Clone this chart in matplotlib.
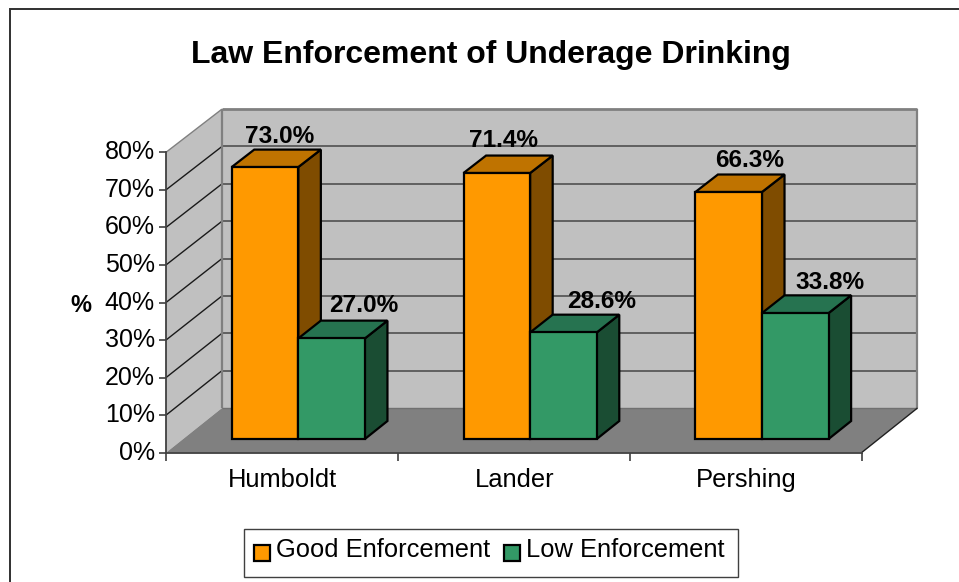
import matplotlib
matplotlib.use("Agg")
import matplotlib.pyplot as plt
from matplotlib.patches import Polygon, Rectangle
from matplotlib.lines import Line2D

categories = ["Humboldt", "Lander", "Pershing"]
good = [73.0, 71.4, 66.3]
low = [27.0, 28.6, 33.8]
series_names = ["Good Enforcement", "Low Enforcement"]
yticks = [0, 10, 20, 30, 40, 50, 60, 70, 80]

W, H = 959, 582
plt.rcParams['font.family'] = ['Liberation Sans', 'DejaVu Sans']
fig = plt.figure(figsize=(W / 100, H / 100), dpi=100, facecolor='white')

L, R, B, T = 166.0, 861.5, 452.7, 152.3
ax = fig.add_axes([L / W, 1 - B / H, (R - L) / W, (B - T) / H])
ax.set_xlim(0, 3)
ax.set_ylim(0, 80)
ax.patch.set_visible(False)
for s in ['top', 'right']:
    ax.spines[s].set_visible(False)
for s in ['left', 'bottom']:
    ax.spines[s].set_color('#404040')
    ax.spines[s].set_linewidth(1.3)
    ax.spines[s].set_zorder(20)

px_x = 3 / (R - L)
px_y = 80 / (B - T)
DX = 56 * px_x
DY = 44.7 * px_y
PERSPECTIVE = 0.005


def depth(x, y, d):
    return (x + d * DX, y * (1 - PERSPECTIVE * d) + d * DY)


def poly(pts, fc, ec='none', lw=0, z=1):
    ax.add_patch(Polygon(pts, closed=True, facecolor=fc, edgecolor=ec, linewidth=lw,
                         clip_on=False, zorder=z, joinstyle='miter'))


def line(pts, color, lw, z=2):
    xs, ys = zip(*pts)
    ax.plot(xs, ys, color=color, lw=lw, clip_on=False, zorder=z, solid_capstyle='butt')


# walls and floor
WALL = '#c0c0c0'
poly([depth(0, 0, 1), depth(3, 0, 1), depth(3, 80, 1), depth(0, 80, 1)], WALL)
poly([depth(0, 0, 0), depth(0, 0, 1), depth(0, 80, 1), depth(0, 80, 0)], WALL)
poly([depth(0, 0, 0), depth(3, 0, 0), depth(3, 0, 1), depth(0, 0, 1)], '#808080')

for v in yticks[1:]:
    line([depth(0, v, 0), depth(0, v, 1)], '#1a1a1a' if v < 80 else '#808080', 1.0, 2)
    line([depth(0, v, 1), depth(3, v, 1)], '#606060' if v < 80 else '#808080', 1.4 if v < 80 else 2.0, 2)
line([depth(0, 0, 1), depth(0, 80, 1)], '#808080', 1.6, 3)
line([depth(3, 0, 1), depth(3, 80, 1)], '#808080', 1.6, 3)
line([depth(0, 0, 1), depth(3, 0, 1)], '#707070', 1.0, 3)
line([depth(3, 0, 0), depth(3, 0, 1)], '#202020', 1.0, 3)

# bars
ORANGE = ('#ff9900', '#bf7300', '#7f4c00')
GREEN = ('#339966', '#267350', '#1a4d33')
BW = 66.6 * px_x
D0, D1 = 13.7 / 44.7, 31.7 / 44.7
X0 = (65.7 - D0 * 56) * px_x
LW = 1.6
BAR_SCALE = 0.9936


def bar3d(x, v, cols, z):
    f, t, s = cols
    x1 = x + BW
    v = v * BAR_SCALE
    a = depth(x, 0, D0)
    b = depth(x1, 0, D0)
    c = depth(x1, v, D0)
    d = depth(x, v, D0)
    e = depth(x, v, D1)
    g = depth(x1, v, D1)
    h = depth(x1, 0, D1)
    poly([b, h, g, c], s, 'black', LW, z)
    poly([d, c, g, e], t, 'black', LW, z)
    poly([a, b, c, d], f, 'black', LW, z + 0.1)


for i in range(len(categories)):
    bar3d(i + X0, good[i], ORANGE, 10 + i)
    bar3d(i + X0 + BW, low[i], GREEN, 10.5 + i)

# value labels: nudges in pixels from the centre of the bar's rear top edge
good_nudge = [(-8, 13), (-16, 15), (-2, 14)]
low_nudge = [(10, 15), (16, 13), (12, 13)]
PT = 72 / 100
for i in range(len(categories)):
    for val, xb, nudge in ((good[i], i + X0 + BW / 2, good_nudge[i]),
                           (low[i], i + X0 + 1.5 * BW, low_nudge[i])):
        ax.annotate(f"{val:.1f}%", depth(xb, val * BAR_SCALE, D1),
                    xytext=(nudge[0] * PT, nudge[1] * PT),
                    textcoords='offset points', ha='center', va='center', fontsize=17.6,
                    fontweight='bold', color='black', zorder=30, annotation_clip=False)

# axes
ax.set_yticks(yticks)
ax.set_yticklabels([f"{v}%" for v in yticks], fontsize=18, va='center')
ax.set_xticks([0, 1, 2, 3])
ax.set_xticklabels([])
ax.tick_params(axis='both', length=5, width=1.2, color='#404040', direction='out', pad=3)
ax.tick_params(axis='x', length=6)
for i, c in enumerate(categories):
    ax.annotate(c, (i + 0.5, 0), xytext=(1 * PT, -27 * PT), textcoords='offset points',
                ha='center', va='center', fontsize=18.4, annotation_clip=False)

fig.text(81 / W, 1 - 305 / H, "%", fontsize=17, fontweight='bold', ha='center', va='center')
fig.text(491 / W, 1 - 55 / H, "Law Enforcement of Underage Drinking", fontsize=23,
         fontweight='bold', ha='center', va='center')

# chart frame: left, top only inside the picture
fig.add_artist(Line2D([9.5 / W, 9.5 / W, 1.0], [0, 1 - 9 / H, 1 - 9 / H], transform=fig.transFigure,
                      color='#303030', linewidth=1.4, solid_joinstyle='miter'))

# legend
fig.add_artist(Rectangle((243.5 / W, 1 - 577 / H), (738 - 243.5) / W, 48 / H, transform=fig.transFigure,
                         facecolor='white', edgecolor='#404040', linewidth=1.0))
swatch = [(253.5, ORANGE[0], 276), (504, GREEN[0], 526)]
for (x, col, tx), name in zip(swatch, series_names):
    fig.add_artist(Rectangle((x / W, 1 - 561 / H), 16 / W, 16 / H, transform=fig.transFigure,
                             facecolor=col, edgecolor='black', linewidth=1.6))
    fig.text(tx / W, 1 - 550 / H, name, fontsize=18.4, ha='left', va='center')

fig.savefig("out.png", dpi=100, facecolor='white')
